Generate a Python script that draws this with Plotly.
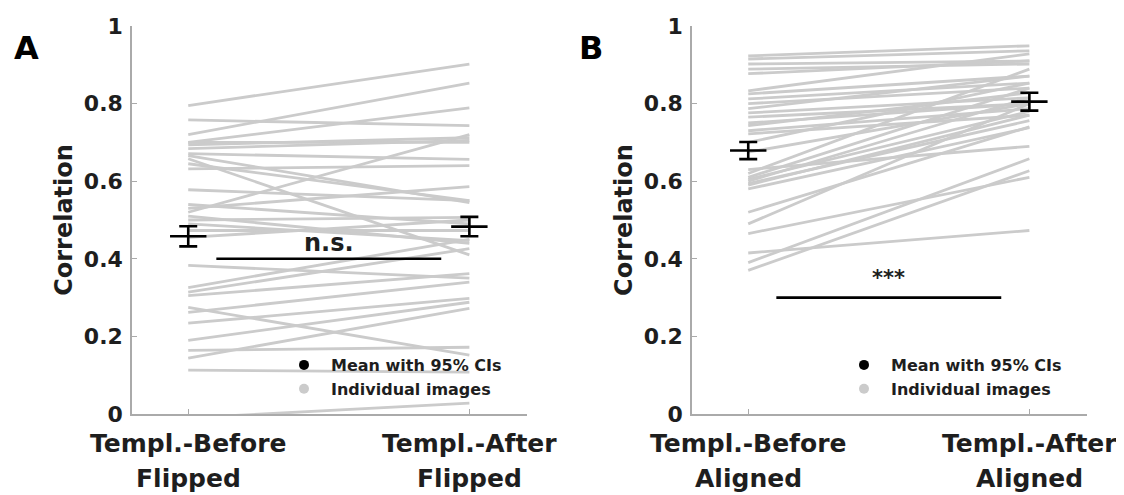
import plotly.graph_objects as go

# ---------------- data ----------------
cat_line1 = ["Templ.-Before", "Templ.-After"]
cat_line2_a = ["Flipped", "Flipped"]
cat_line2_b = ["Aligned", "Aligned"]
cat_x = [1, 2]

a_before = [0.795, 0.758, 0.72, 0.70, 0.70, 0.694, 0.684, 0.671, 0.666, 0.658,
            0.645, 0.632, 0.578, 0.54, 0.53, 0.52, 0.51, 0.50, 0.473, 0.455,
            0.383, 0.326, 0.314, 0.305, 0.275, 0.262, 0.234, 0.19, 0.164, 0.144,
            0.113, -0.01, 0.49]
a_after = [0.902, 0.743, 0.853, 0.789, 0.70, 0.712, 0.705, 0.656, 0.545, 0.41,
           0.55, 0.64, 0.55, 0.49, 0.586, 0.72, 0.44, 0.507, 0.473, 0.50,
           0.35, 0.45, 0.426, 0.362, 0.152, 0.34, 0.298, 0.288, 0.172, 0.272,
           0.108, 0.028, 0.447]

b_before = [0.923, 0.915, 0.902, 0.889, 0.877, 0.833, 0.825, 0.812, 0.80, 0.787,
            0.776, 0.765, 0.75, 0.743, 0.73, 0.722, 0.70, 0.675, 0.63, 0.62,
            0.61, 0.605, 0.60, 0.594, 0.59, 0.58, 0.52, 0.49, 0.465, 0.415,
            0.39, 0.37]
b_after = [0.949, 0.936, 0.91, 0.902, 0.91, 0.928, 0.871, 0.853, 0.84, 0.871,
           0.815, 0.80, 0.80, 0.828, 0.787, 0.77, 0.853, 0.80, 0.69, 0.889,
           0.84, 0.78, 0.815, 0.756, 0.77, 0.738, 0.74, 0.80, 0.61, 0.473,
           0.658, 0.627]

a_means = [0.458, 0.483]
a_ci = [0.026, 0.025]
b_means = [0.679, 0.805]
b_ci = [0.022, 0.023]

sig_x = [1.1, 1.9]
sig_a_y = [0.40, 0.40]
sig_b_y = [0.30, 0.30]
sig_a_text = "n.s."
sig_b_text = "***"

y_ticks = [0, 0.2, 0.4, 0.6, 0.8, 1]
y_ticktext = ["0", "0.2", "0.4", "0.6", "0.8", "1"]

# ---------------- style ----------------
W, H = 1124, 495
OFF = 8  # page body margin
FW, FH = W - OFF, H - OFF
FONT = "DejaVu Sans, Arial, sans-serif"
GRAY = "rgb(203,203,203)"
AXC = "rgb(170,170,170)"
TXT = "#1e1e1e"


def px_x(px):
    return (px - OFF) / FW


def px_y(py):
    return 1 - (py - OFF) / FH


def pairs_to_xy(before, after):
    xs, ys = [], []
    for b, a in zip(before, after):
        xs += [cat_x[0], cat_x[1], None]
        ys += [b, a, None]
    return xs, ys


fig = go.Figure()

panels = [
    ("x", "y", a_before, a_after, a_means, a_ci, sig_a_y, "legend"),
    ("x2", "y2", b_before, b_after, b_means, b_ci, sig_b_y, "legend2"),
]
for xa, ya, bef, aft, means, ci, sig_y, leg in panels:
    xs, ys = pairs_to_xy(bef, aft)
    fig.add_trace(go.Scatter(x=xs, y=ys, xaxis=xa, yaxis=ya, mode="lines",
                             line=dict(color=GRAY, width=2.8),
                             showlegend=False, hoverinfo="skip"))
    fig.add_trace(go.Scatter(x=sig_x, y=sig_y, xaxis=xa, yaxis=ya, mode="lines",
                             line=dict(color="black", width=2.6),
                             showlegend=False))
    fig.add_trace(go.Scatter(x=cat_x, y=means, xaxis=xa, yaxis=ya, mode="markers",
                             marker=dict(symbol="line-ew", size=26, color="black",
                                         line=dict(color="black", width=2.6)),
                             error_y=dict(type="data", array=ci, color="black",
                                          thickness=2.6, width=9),
                             showlegend=False))
    fig.add_trace(go.Scatter(x=[None], y=[None], xaxis=xa, yaxis=ya, mode="markers",
                             marker=dict(symbol="circle", size=10, color="black"),
                             name="Mean with 95% CIs", legend=leg))
    fig.add_trace(go.Scatter(x=[None], y=[None], xaxis=xa, yaxis=ya, mode="markers",
                             marker=dict(symbol="circle", size=10, color=GRAY),
                             name="Individual images", legend=leg))

ydom = [px_y(414), px_y(26)]
xdomA = [px_x(132), px_x(527)]
xdomB = [px_x(692), px_x(1087)]

xaxis_common = dict(range=[0.8, 2.205], tickvals=cat_x, ticktext=cat_line1,
                    showline=True, linecolor=AXC, linewidth=1.5, automargin=False,
                    ticks="inside", ticklen=5, tickcolor=AXC, tickwidth=1,
                    showgrid=False, zeroline=False, ticklabelstandoff=6,
                    tickfont=dict(family=FONT, size=25, color=TXT, weight="bold"))
yaxis_common = dict(range=[0, 1], tickvals=y_ticks, ticktext=y_ticktext,
                    showline=True, linecolor=AXC, linewidth=1.5, automargin=False,
                    ticks="inside", ticklen=5, tickcolor=AXC, tickwidth=1,
                    showgrid=False, zeroline=False, ticklabelstandoff=3,
                    tickfont=dict(family=FONT, size=22, color=TXT, weight="bold"),
                    title=dict(text="Correlation", standoff=4,
                               font=dict(family=FONT, size=24, color=TXT, weight="bold")))

legend_common = dict(xanchor="left", yanchor="top", bgcolor="rgba(0,0,0,0)",
                     font=dict(family=FONT, size=16, color=TXT, weight="bold"),
                     itemclick=False, tracegroupgap=0, itemwidth=44)

fig.update_layout(
    width=FW, height=FH,
    margin=dict(l=0, r=0, t=0, b=0),
    paper_bgcolor="white", plot_bgcolor="white",
    xaxis=dict(domain=xdomA, anchor="y", **xaxis_common),
    yaxis=dict(domain=ydom, anchor="x", **yaxis_common),
    xaxis2=dict(domain=xdomB, anchor="y2", **xaxis_common),
    yaxis2=dict(domain=ydom, anchor="x2", **yaxis_common),
    legend=dict(x=px_x(304 - 27), y=px_y(348), **legend_common),
    legend2=dict(x=px_x(864 - 27), y=px_y(348), **legend_common),
    showlegend=True,
)

ann = []
for xr, line2 in (("x", cat_line2_a), ("x2", cat_line2_b)):
    for cx, t in zip(cat_x, line2):
        ann.append(dict(x=cx, xref=xr, y=px_y(478), yref="paper", text=t,
                        showarrow=False, xanchor="center", yanchor="middle",
                        font=dict(family=FONT, size=25, color=TXT, weight="bold")))
ann.append(dict(x=sum(sig_x) / 2, xref="x", y=sig_a_y[0], yref="y", text=sig_a_text,
                showarrow=False, yanchor="bottom", yshift=0,
                font=dict(family=FONT, size=24, color=TXT, weight="bold")))
ann.append(dict(x=sum(sig_x) / 2, xref="x2", y=sig_b_y[0], yref="y2", text=sig_b_text,
                showarrow=False, yanchor="bottom", yshift=6,
                font=dict(family=FONT, size=21, color=TXT, weight="bold")))
ann.append(dict(x=px_x(26), y=px_y(48), xref="paper", yref="paper", text="A",
                showarrow=False, xanchor="center", yanchor="middle",
                font=dict(family=FONT, size=32, color="black", weight="bold")))
ann.append(dict(x=px_x(591), y=px_y(48), xref="paper", yref="paper", text="B",
                showarrow=False, xanchor="center", yanchor="middle",
                font=dict(family=FONT, size=32, color="black", weight="bold")))
fig.update_layout(annotations=ann)

fig.write_html("out.html")
